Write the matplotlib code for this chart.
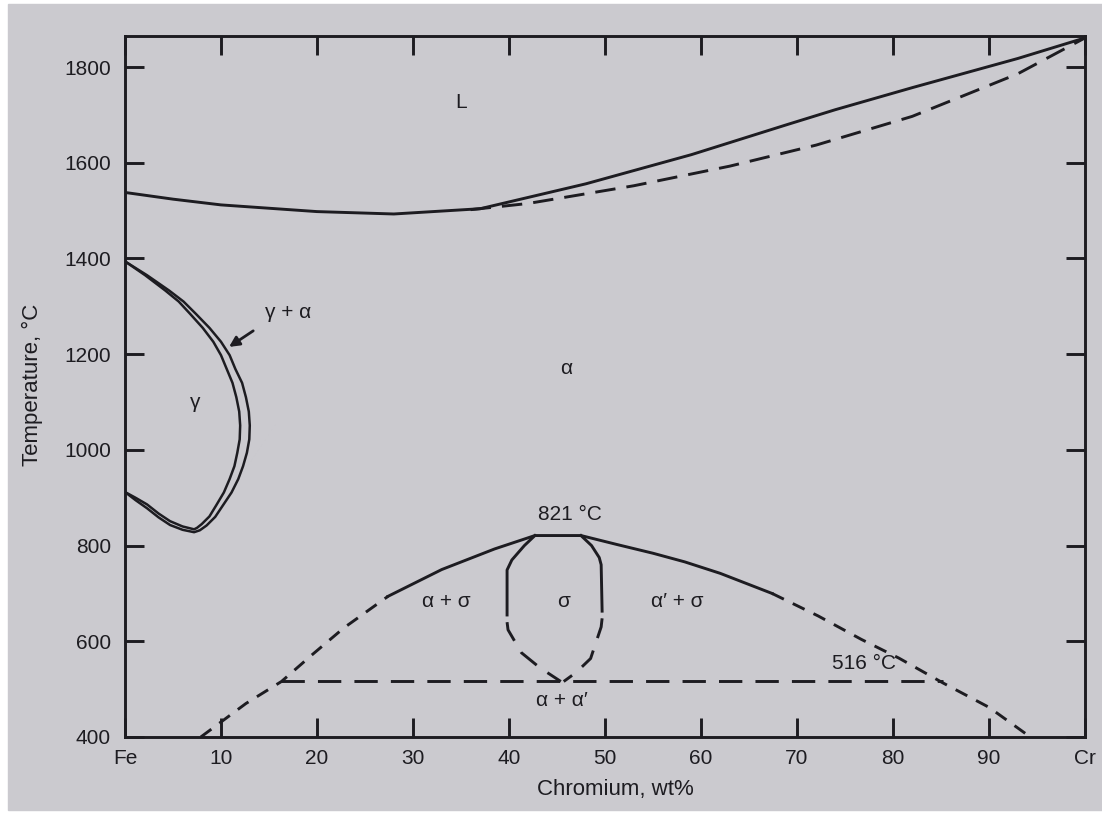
import matplotlib.pyplot as plt
from matplotlib.patches import Rectangle

plt.rcParams['font.family'] = ['Liberation Sans', 'DejaVu Sans']

INK = '#1d1c21'
PAPER = '#cbcacf'

# liquidus (solid) and solidus (dashed), wt% Cr vs temperature
liq_wt = [0, 5, 10, 20, 28, 37, 48, 59, 69, 74, 82, 93, 100]
liq_T = [1538, 1524, 1512, 1498, 1493, 1504, 1556, 1617, 1680, 1711, 1757, 1818, 1861]
sol_wt = [36, 42, 53, 63, 72, 82, 93, 100]
sol_T = [1502, 1515, 1552, 1593, 1637, 1697, 1786, 1861]

# gamma loop: outer (alpha side) and inner (gamma side) boundaries
loop_out_wt = [0, 2.3, 4.6, 6.1, 7.4, 8.8, 10.0, 10.9, 11.5, 12.2, 12.6, 12.9, 13.0,
               12.95, 12.7, 12.3, 11.8, 11.1, 10.2, 9.4, 8.5, 7.8, 7.2, 6.0, 4.7,
               3.5, 2.3, 1.1, 0]
loop_out_T = [1394, 1365, 1333, 1310, 1284, 1255, 1226, 1198, 1169, 1140, 1110, 1080, 1051,
              1022, 994, 966, 939, 911, 884, 860, 842, 832, 828, 833, 843,
              859, 878, 895, 912]
loop_in_wt = [0, 2.1, 4.2, 5.6, 6.8, 8.1, 9.2, 10.0, 10.6, 11.2, 11.6, 11.9, 12.0,
              11.95, 11.7, 11.4, 10.9, 10.3, 9.5, 8.8, 8.0, 7.5, 7.2, 6.0, 4.7,
              3.5, 2.3, 1.1, 0]
loop_in_T = [1394, 1365, 1333, 1310, 1284, 1255, 1226, 1198, 1169, 1140, 1110, 1080, 1051,
             1022, 994, 966, 939, 911, 884, 861, 845, 837, 834, 840, 851,
             867, 886, 900, 912]

# sigma dome boundary
dome_l_wt = [7.9, 12.6, 16.3, 19.5, 22.8, 27.4]
dome_l_T = [400, 470, 516, 572, 628, 694]
dome_wt = [27.4, 33.0, 38.5, 42.7, 47.5, 51.3, 55.0, 58.3, 62.0, 67.4]
dome_T = [694, 750, 793, 821, 821, 802, 784, 766, 742, 700]
dome_r_wt = [67.4, 72.2, 76.7, 80.6, 85.2, 90.0, 94.3]
dome_r_T = [700, 653, 604, 565, 513, 462, 400]

# sigma phase field
sig_l_wt = [42.7, 41.6, 40.3, 39.8, 39.8]
sig_l_T = [821, 800, 770, 749, 655]
sig_ld_wt = [39.8, 39.9, 41.3, 43.2, 45.4]
sig_ld_T = [640, 624, 576, 545, 516]
sig_r_wt = [47.5, 48.6, 49.4, 49.6, 49.7]
sig_r_T = [821, 800, 775, 760, 663]
sig_rd_wt = [49.7, 49.6, 48.5, 47.0, 45.7]
sig_rd_T = [648, 630, 564, 535, 516]

# alpha / alpha' miscibility gap temperature
eut_wt = [16.3, 85.2]
eut_T = [516, 516]

x_ticks = [0, 10, 20, 30, 40, 50, 60, 70, 80, 90, 100]
x_labels = ['Fe', '10', '20', '30', '40', '50', '60', '70', '80', '90', 'Cr']
y_ticks = [400, 600, 800, 1000, 1200, 1400, 1600, 1800]

fig = plt.figure(figsize=(11.02, 8.14), dpi=100, facecolor='white')
fig.patches.append(Rectangle((8 / 1102, 1 - 810 / 814), 1094 / 1102, 806 / 814,
                             transform=fig.transFigure, color=PAPER, zorder=-10))
ax = fig.add_axes([0.1134, 0.0946, 0.8712, 0.8612])
ax.set_facecolor('none')

lw = 2.1
ax.plot(liq_wt, liq_T, color=INK, lw=lw)
ax.plot(sol_wt, sol_T, color=INK, lw=lw, ls=(0, (7.0, 3.8)))

ax.plot(loop_out_wt, loop_out_T, color=INK, lw=1.8)
ax.plot(loop_in_wt, loop_in_T, color=INK, lw=1.8)

ax.plot(dome_l_wt, dome_l_T, color=INK, lw=lw, ls=(0, (4.5, 3.4)))
ax.plot(dome_wt, dome_T, color=INK, lw=lw)
ax.plot(dome_r_wt, dome_r_T, color=INK, lw=lw, ls=(0, (4.5, 3.4)))

ax.plot(sig_l_wt, sig_l_T, color=INK, lw=lw)
ax.plot(sig_ld_wt, sig_ld_T, color=INK, lw=lw, ls=(0, (7.0, 4.5)))
ax.plot(sig_r_wt, sig_r_T, color=INK, lw=lw)
ax.plot(sig_rd_wt, sig_rd_T, color=INK, lw=lw, ls=(0, (7.0, 4.5)))

ax.plot(eut_wt, eut_T, color=INK, lw=lw, ls=(0, (8.0, 4.5)))

# phase labels
lab = dict(color=INK, fontsize=15, ha='center', va='center')
ax.text(35, 1725, 'L', **lab)
ax.text(46, 1170, 'α', **lab)
ax.text(7.3, 1100, 'γ', **lab)
ax.text(17.0, 1287, 'γ + α', **lab)
ax.annotate('', xy=(10.6, 1212), xytext=(13.6, 1252),
            arrowprops=dict(arrowstyle='-|>', color=INK, lw=2.0,
                            mutation_scale=15))
ax.text(46.3, 864, '821 °C', **lab)
ax.text(33.5, 683, 'α + σ', **lab)
ax.text(45.7, 683, 'σ', **lab)
ax.text(57.5, 683, 'α′ + σ', **lab)
ax.text(77, 554, '516 °C', **lab)
ax.text(45.5, 477, 'α + α′', **lab)

ax.set_xlim(0, 100)
ax.set_ylim(400, 1865)
ax.set_xticks(x_ticks)
ax.set_xticklabels(x_labels)
ax.set_yticks(y_ticks)
ax.tick_params(direction='in', length=14, width=2.1, color=INK,
               top=True, right=True, labelsize=15, labelcolor=INK)
ax.tick_params(axis='x', pad=9)
ax.tick_params(axis='y', pad=10)
for s in ax.spines.values():
    s.set_linewidth(2.1)
    s.set_color(INK)

fig.text(32 / 1102, 1 - 385 / 814, 'Temperature, °C', rotation=90,
         ha='center', va='center', fontsize=16, color=INK)
fig.text(615 / 1102, 1 - 790 / 814, 'Chromium, wt%',
         ha='center', va='center', fontsize=16, color=INK)

fig.savefig('out.png', dpi=100, facecolor=fig.get_facecolor())
